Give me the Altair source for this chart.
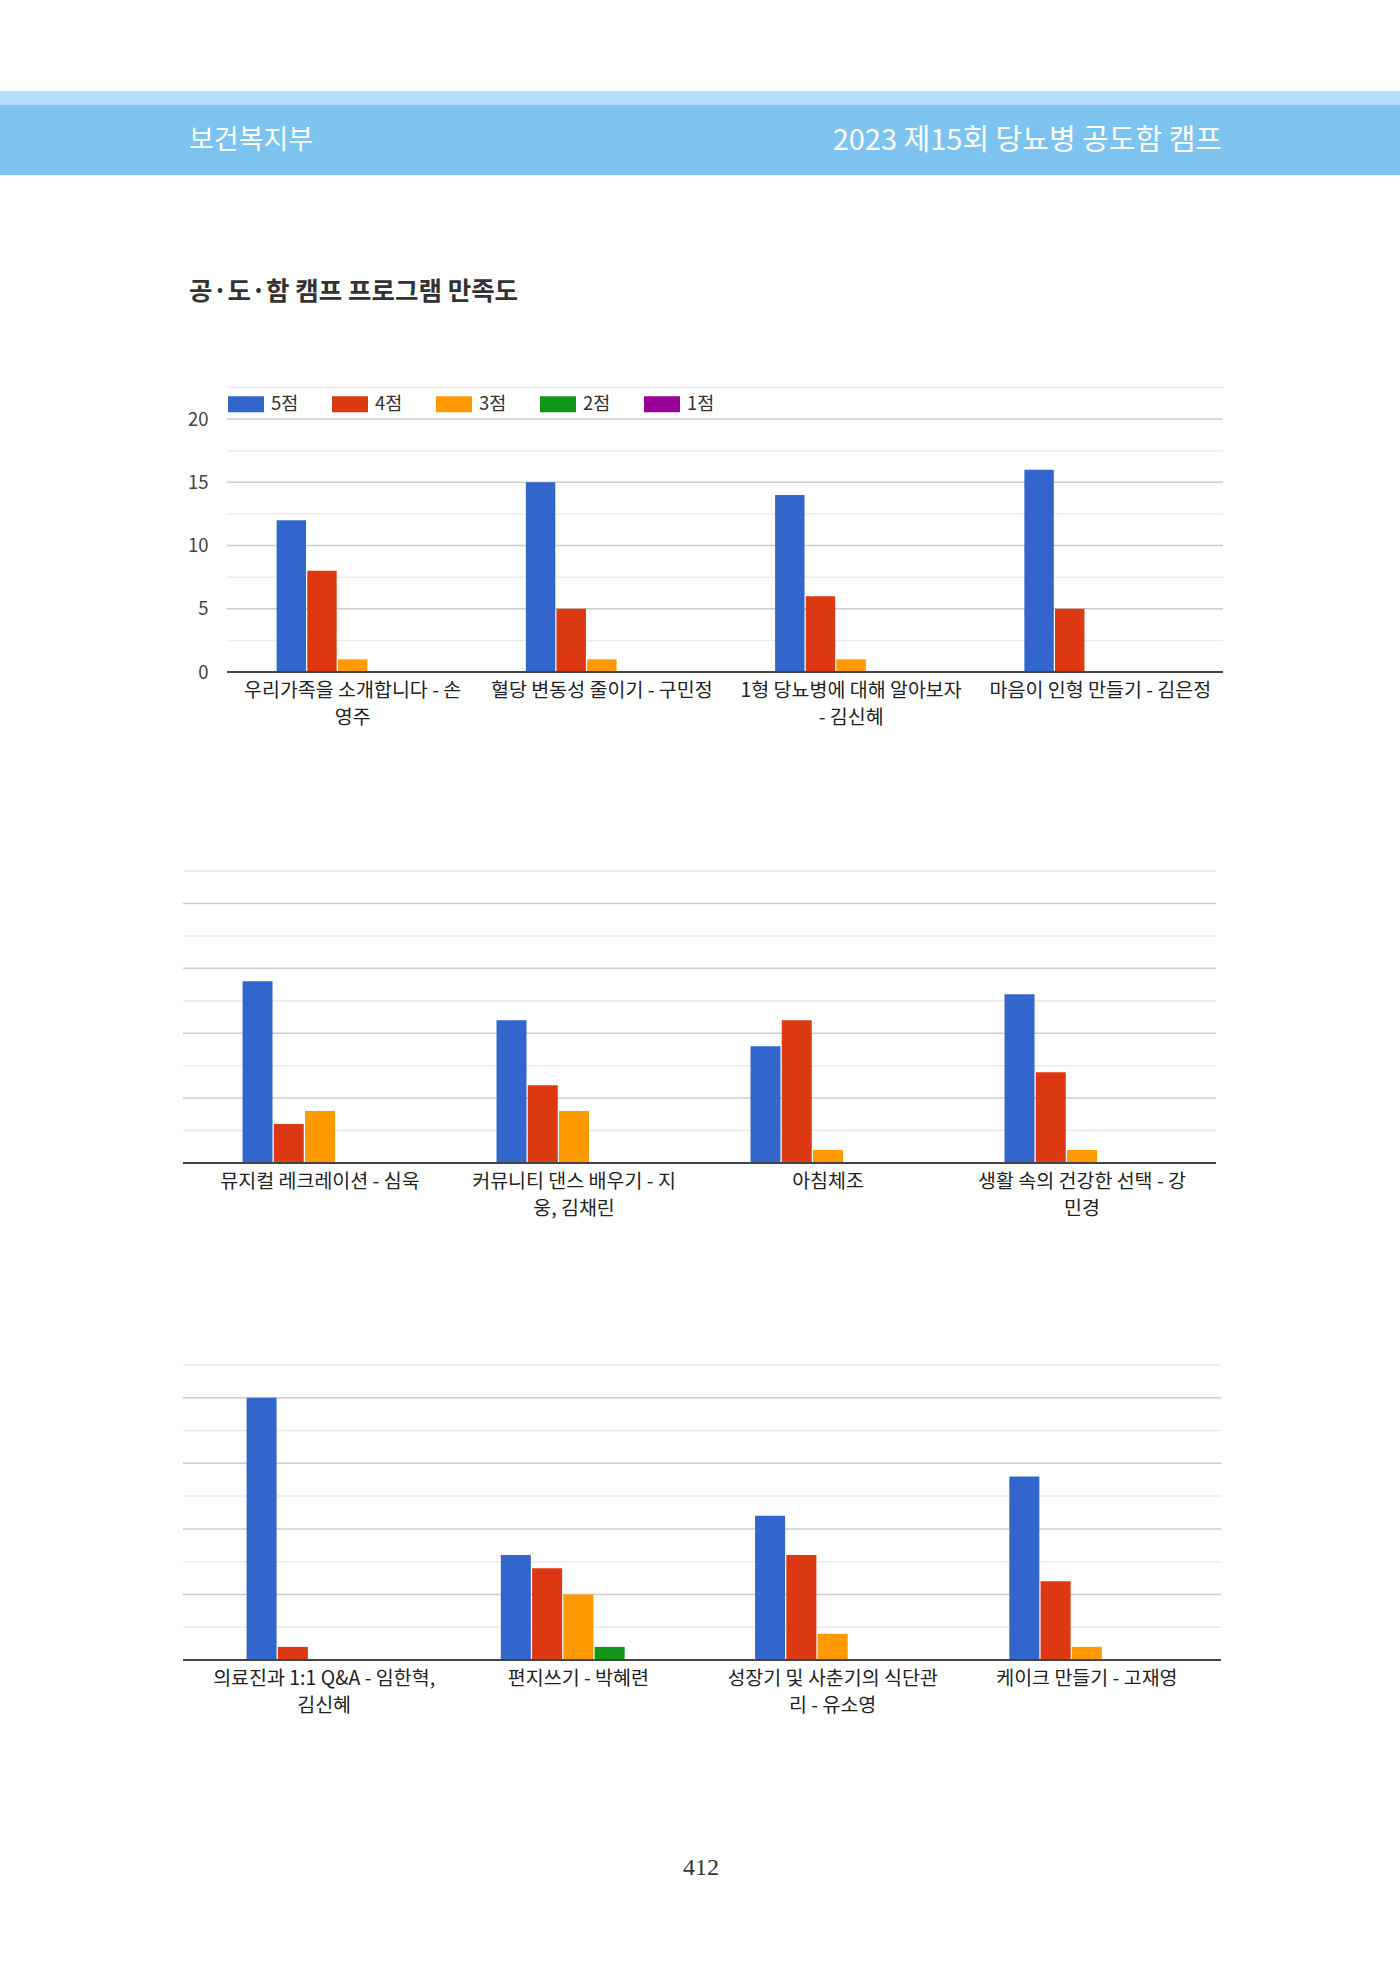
import altair as alt
import pandas as pd

# ---------------- data ----------------
SERIES = ["5점", "4점", "3점", "2점", "1점"]
COLORS = ["#3366cc", "#dc3912", "#ff9900", "#109618", "#990099"]

HEADER_LEFT = "보건복지부"
HEADER_RIGHT = "2023 제15회 당뇨병 공도함 캠프"
TITLE = "공·도·함 캠프 프로그램 만족도"
PAGE_NO = "412"

PROGRAMS_1 = ["우리가족을 소개합니다 - 손\n영주", "혈당 변동성 줄이기 - 구민정",
              "1형 당뇨병에 대해 알아보자\n- 김신혜", "마음이 인형 만들기 - 김은정"]
P1_S5 = [12, 15, 14, 16]
P1_S4 = [8, 5, 6, 5]
P1_S3 = [1, 1, 1, 0]
P1_S2 = [0, 0, 0, 0]
P1_S1 = [0, 0, 0, 0]

PROGRAMS_2 = ["뮤지컬 레크레이션 - 심욱", "커뮤니티 댄스 배우기 - 지\n웅, 김채린",
              "아침체조", "생활 속의 건강한 선택 - 강\n민경"]
P2_S5 = [14, 11, 9, 13]
P2_S4 = [3, 6, 11, 7]
P2_S3 = [4, 4, 1, 1]
P2_S2 = [0, 0, 0, 0]
P2_S1 = [0, 0, 0, 0]

PROGRAMS_3 = ["의료진과 1:1 Q&A - 임한혁,\n김신혜", "편지쓰기 - 박혜련",
              "성장기 및 사춘기의 식단관\n리 - 유소영", "케이크 만들기 - 고재영"]
P3_S5 = [20, 8, 11, 14]
P3_S4 = [1, 7, 8, 6]
P3_S3 = [0, 5, 2, 1]
P3_S2 = [0, 1, 0, 0]
P3_S1 = [0, 0, 0, 0]

Y_TICKS = [0, 5, 10, 15, 20]
GRID_MAJOR = [5, 10, 15, 20]
GRID_MINOR = [2.5, 7.5, 12.5, 17.5, 22.5]
Y_MAX = 22.5

# ---------------- layout ----------------
W, H = 1400, 1980
FONT = "Noto Sans CJK KR"


def long_df(programs, *series_vals):
    rows = []
    for s, vals in zip(SERIES, series_vals):
        for p, v in zip(programs, vals):
            rows.append({"program": p, "series": s, "value": v})
    return pd.DataFrame(rows)


def panel(programs, vals, x_range, y_range, grid_x, show_y, show_legend):
    df = long_df(programs, *vals)
    yscale = alt.Scale(domain=[0, Y_MAX], range=list(y_range), nice=False, zero=False)
    if show_y:
        yaxis = alt.Axis(orient="left", offset=-grid_x[0], values=Y_TICKS, grid=False,
                         domain=False, ticks=False, labelPadding=19, labelFont=FONT,
                         labelFontSize=18.5, labelColor="#444", title=None)
    else:
        yaxis = None
    xscale = alt.Scale(domain=programs, range=list(x_range), paddingInner=0.39, paddingOuter=0.195)
    xaxis = alt.Axis(orient="bottom", offset=-(H - y_range[0]), labelPadding=9,
                     domain=False, ticks=False, grid=False, labelAngle=0,
                     labelExpr="split(datum.label, '\\n')", labelFont=FONT,
                     labelFontSize=19.5, labelColor="#222", labelLineHeight=27,
                     labelBaseline="top", labelOverlap=False, labelLimit=500,
                     labelBound=False, title=None)
    if show_legend:
        legend = alt.Legend(orient="none", legendX=grid_x[0] + 1, legendY=386,
                            direction="horizontal", title=None,
                            symbolType="M-1,-0.444H1V0.444H-1Z", symbolSize=1296,
                            symbolStrokeWidth=0, symbolOpacity=1, labelFont=FONT,
                            labelFontSize=18.5, labelColor="#333", labelOffset=7,
                            columnPadding=33)
    else:
        legend = None

    minor = alt.Chart(pd.DataFrame({"v": GRID_MINOR})).mark_rule(
        color="#ebebeb", strokeWidth=1.5).encode(
        y=alt.Y("v:Q", scale=yscale, axis=yaxis),
        x=alt.value(grid_x[0]), x2=alt.value(grid_x[1]))
    major = alt.Chart(pd.DataFrame({"v": GRID_MAJOR})).mark_rule(
        color="#cccccc", strokeWidth=1.5).encode(
        y=alt.Y("v:Q", scale=yscale, axis=yaxis),
        x=alt.value(grid_x[0]), x2=alt.value(grid_x[1]))
    bars = alt.Chart(df).mark_bar().encode(
        x=alt.X("program:N", sort=programs, scale=xscale, axis=xaxis),
        xOffset=alt.XOffset("series:N", sort=SERIES,
                            scale=alt.Scale(domain=SERIES, paddingInner=0.04)),
        y=alt.Y("value:Q", scale=yscale, axis=yaxis),
        color=alt.Color("series:N", sort=SERIES,
                        scale=alt.Scale(domain=SERIES, range=COLORS), legend=legend),
    )
    base = alt.Chart(pd.DataFrame({"v": [0]})).mark_rule(
        color="#444444", strokeWidth=2).encode(
        y=alt.Y("v:Q", scale=yscale, axis=yaxis),
        x=alt.value(grid_x[0]), x2=alt.value(grid_x[1]))
    return alt.layer(minor, major, bars, base)


one = pd.DataFrame({"t": [""]})

band_light = alt.Chart(one).mark_rect(color="#b3dffc").encode(
    x=alt.value(0), x2=alt.value(W), y=alt.value(91), y2=alt.value(105))
band_dark = alt.Chart(one).mark_rect(color="#7cc3ef").encode(
    x=alt.value(0), x2=alt.value(W), y=alt.value(105), y2=alt.value(175))
head_left = alt.Chart(pd.DataFrame({"t": [HEADER_LEFT]})).mark_text(
    align="left", baseline="middle", font=FONT, fontSize=27, color="white").encode(
    text="t:N", x=alt.value(189), y=alt.value(141))
head_right = alt.Chart(pd.DataFrame({"t": [HEADER_RIGHT]})).mark_text(
    align="right", baseline="middle", font=FONT, fontSize=29, color="white").encode(
    text="t:N", x=alt.value(1222), y=alt.value(141))
title = alt.Chart(pd.DataFrame({"t": [TITLE]})).mark_text(
    align="left", baseline="middle", font=FONT, fontSize=25.5, fontWeight="bold",
    color="#333333").encode(text="t:N", x=alt.value(189), y=alt.value(292))
page = alt.Chart(pd.DataFrame({"t": [PAGE_NO]})).mark_text(
    align="center", baseline="middle", font="Liberation Serif", fontSize=24,
    color="#333333").encode(text="t:N", x=alt.value(701), y=alt.value(1868))

c1 = panel(PROGRAMS_1, [P1_S5, P1_S4, P1_S3, P1_S2, P1_S1],
           x_range=(228, 1225), y_range=(672, 387.5), grid_x=(227, 1223),
           show_y=True, show_legend=True)
c2 = panel(PROGRAMS_2, [P2_S5, P2_S4, P2_S3, P2_S2, P2_S1],
           x_range=(193, 1209), y_range=(1163, 871), grid_x=(183, 1216),
           show_y=False, show_legend=False)
c3 = panel(PROGRAMS_3, [P3_S5, P3_S4, P3_S3, P3_S2, P3_S1],
           x_range=(197, 1214), y_range=(1660, 1365), grid_x=(183, 1221),
           show_y=False, show_legend=False)

chart = alt.layer(band_light, band_dark, head_left, head_right, title,
                  c1, c2, c3, page).resolve_scale(
    x="independent", y="independent", xOffset="independent"
).properties(
    width=W, height=H, autosize=alt.AutoSizeParams(type="none"), padding=0,
    background="white"
).configure_view(stroke=None)

chart.save("out.html", embed_options={"renderer": "svg", "actions": False})
